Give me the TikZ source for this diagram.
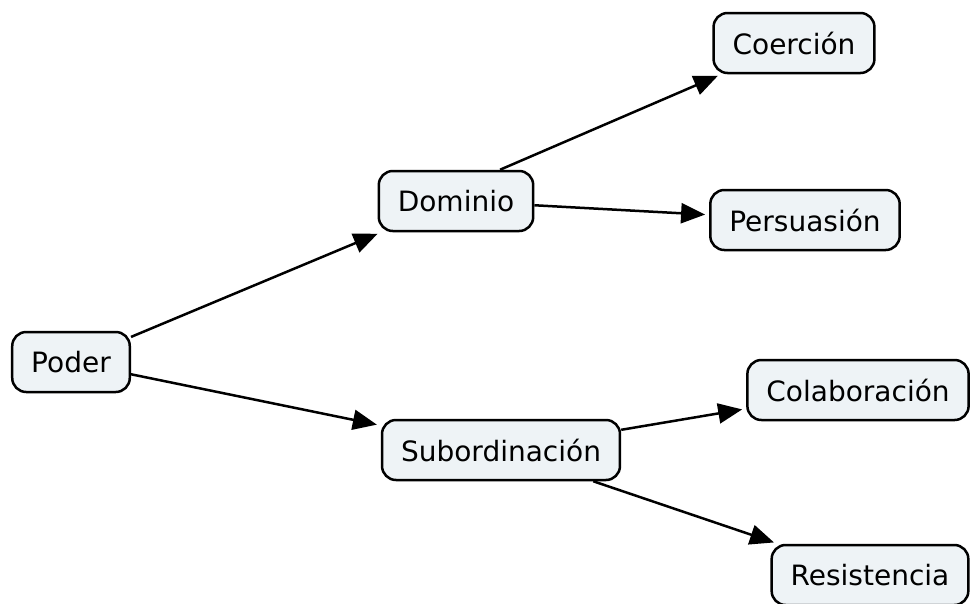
\documentclass[tikz,border=0pt]{standalone}
\usepackage{fontspec}
\setmainfont{DejaVu Sans}
\usepackage{tikz}
\usetikzlibrary{
	positioning,
	arrows.meta
}
\definecolor{conceptfill}{RGB}{238,243,246}

\begin{document}
\begin{tikzpicture}[x=1pt,y=-1pt,
		concept/.style={draw,fill=conceptfill,rounded corners=14pt,line width=2.5pt,
			minimum height=60pt,inner xsep=19pt,font=\fontsize{28}{34}\selectfont},
		link/.style={-{Triangle[length=24pt,width=20pt]},line width=2.5pt,shorten >=4pt}
	]
		\useasboundingbox (0,0) rectangle (970,603);
		\draw
			node[concept] at (71,362)  (pod) {Poder}
			node[concept] at (456,201) (dom) {Dominio}
			node[concept] at (501,450) (sub) {Subordinación}
			node[concept] at (794,43)  (coe) {Coerción}
			node[concept] at (805,220) (per) {Persuasión}
			node[concept] at (858,390) (col) {Colaboración}
			node[concept] at (870,575) (res) {Resistencia}

			(pod)                  edge[link] (dom)
			(pod)                  edge[link] (sub)
			([xshift=44pt]dom.north) edge[link] (coe)
			(dom)                  edge[link] (per)
			(sub)                  edge[link] (col)
			(sub)                  edge[link] (res)
		;
    \end{tikzpicture}
\end{document}
